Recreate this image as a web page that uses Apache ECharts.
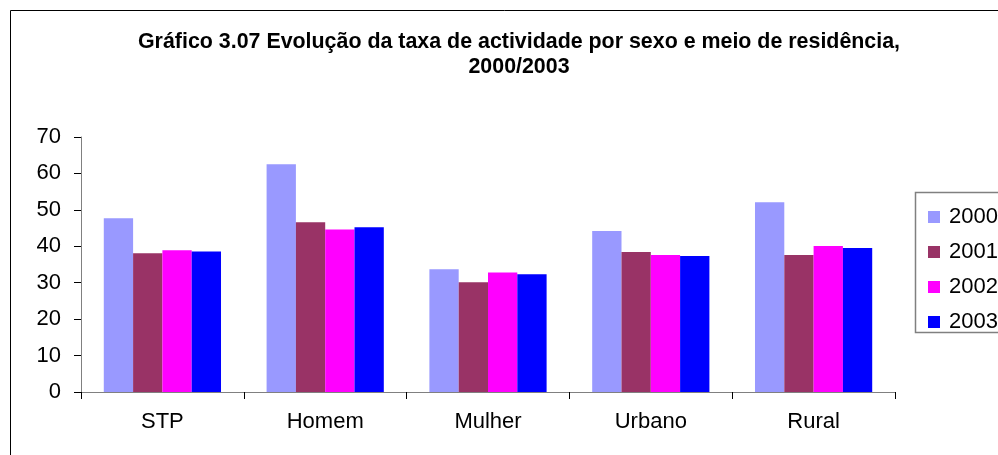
<!DOCTYPE html>
<html>
<head>
    <meta charset="utf-8">
    <script src="https://cdn.jsdelivr.net/npm/echarts@6/dist/echarts.min.js"></script>
    <style type="text/css">
        html, body { margin: 0; padding: 0; background: #fff; }
    </style>
</head>
<body>
    <div id="main" style="width: 998px;height:455px;"></div>
    <script type="text/javascript">
        var categories = ['STP', 'Homem', 'Mulher', 'Urbano', 'Rural'];
        var years = ['2000', '2001', '2002', '2003'];
        var v2000 = [47.7, 62.5, 33.7, 44.2, 52.1];
        var v2001 = [38.1, 46.6, 30.1, 38.4, 37.6];
        var v2002 = [38.9, 44.6, 32.8, 37.6, 40.1];
        var v2003 = [38.6, 45.2, 32.3, 37.3, 39.5];
        var colors = ['#9999FF', '#993366', '#FF00FF', '#0000FF'];

        var font = 'Liberation Sans, Arial, sans-serif';
        var values = [v2000, v2001, v2002, v2003];
        var series = [];
        for (var i = 0; i < years.length; i++) {
            series.push({
                name: years[i],
                type: 'bar',
                barGap: '0%',
                barCategoryGap: '28%',
                itemStyle: { color: colors[i] },
                data: values[i]
            });
        }

        var myChart = echarts.init(document.getElementById('main'));
        var option = {
            backgroundColor: '#fff',
            animation: false,
            color: colors,
            title: {
                text: 'Gráfico 3.07 Evolução da taxa de actividade por sexo e meio de residência,\n2000/2003',
                left: 514,
                textAlign: 'center',
                top: 25,
                textStyle: {
                    fontFamily: font,
                    fontSize: 21.4,
                    fontWeight: 'bold',
                    color: '#000',
                    lineHeight: 25
                }
            },
            // outer chart frame and legend frame (both run past the right edge)
            graphic: [{
                type: 'rect',
                shape: { x: 10.5, y: 10.5, width: 1100, height: 600 },
                style: { fill: null, stroke: '#000', lineWidth: 1 },
                silent: true
            }, {
                type: 'rect',
                shape: { x: 915.5, y: 192.5, width: 200, height: 140 },
                style: { fill: null, stroke: '#808080', lineWidth: 1.5 },
                silent: true
            }],
            legend: {
                orient: 'vertical',
                left: 923,
                top: 201,
                itemWidth: 12,
                itemHeight: 12,
                itemGap: 13,
                icon: 'rect',
                data: years,
                textStyle: {
                    fontFamily: font,
                    fontSize: 22,
                    lineHeight: 22,
                    color: '#000',
                    padding: [0, 0, 0, 4]
                }
            },
            grid: {
                left: 81,
                right: 103,
                top: 137,
                bottom: 63,
                containLabel: false
            },
            xAxis: {
                type: 'category',
                data: categories,
                axisLine: { lineStyle: { color: '#808080', width: 1 } },
                axisTick: { show: true, length: 7, lineStyle: { color: '#000' } },
                axisLabel: {
                    fontFamily: font,
                    fontSize: 22,
                    color: '#000',
                    margin: 19
                }
            },
            yAxis: {
                type: 'value',
                min: 0,
                max: 70,
                interval: 10,
                axisLine: { show: true, lineStyle: { color: '#808080', width: 1 } },
                axisTick: { show: true, length: 7, lineStyle: { color: '#000' } },
                splitLine: { show: false },
                axisLabel: {
                    fontFamily: font,
                    fontSize: 22,
                    color: '#000',
                    margin: 20
                }
            },
            series: series
        };
        myChart.setOption(option);
    </script>
</body>
</html>
